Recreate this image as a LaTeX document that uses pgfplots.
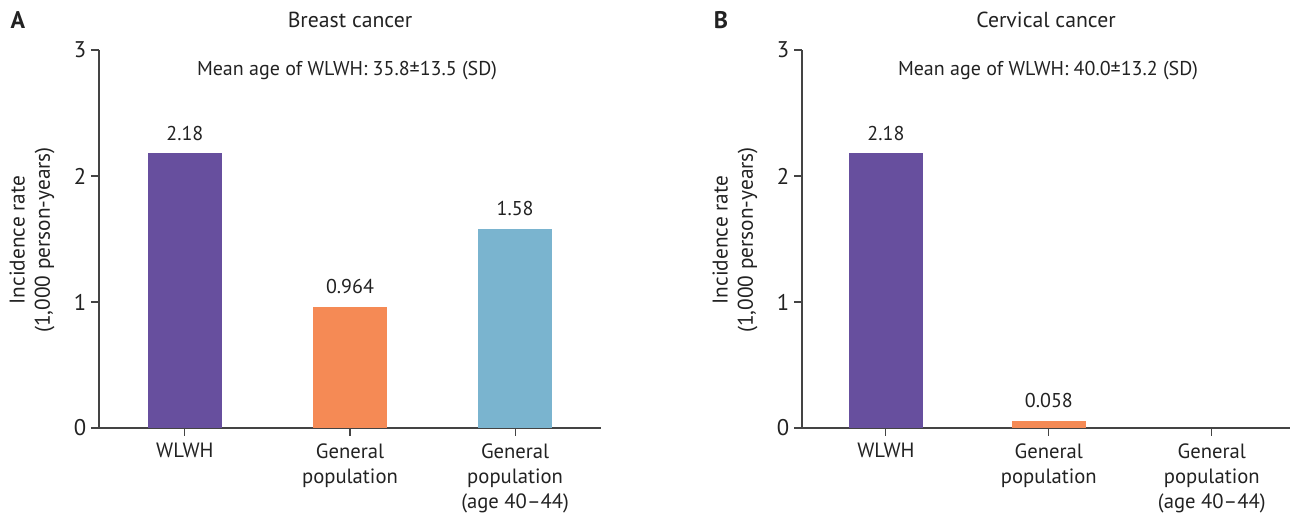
\documentclass[border=0pt]{standalone}
\usepackage{fontspec}
\setmainfont{PT Sans}
\usepackage{pgfplots}
\pgfplotsset{compat=1.18}
\definecolor{cpurple}{HTML}{674F9E}
\definecolor{corange}{HTML}{F58A55}
\definecolor{cblue}{HTML}{7AB4CF}
\definecolor{ctext}{HTML}{222222}
\definecolor{caxis}{HTML}{444444}
\pgfplotsset{
  mybar/.style={
    scale only axis, height=283.5pt,
    axis x line*=bottom, axis y line*=left,
    ymin=0, ymax=3, ytick={0,1,2,3},
    xtick={0,1,2},
    xticklabels={WLWH, General\\population, General\\population\\(age 40–44)},
    tick align=outside, major tick length=6pt,
    axis line style={draw=caxis, line width=0.8pt},
    tick style={draw=caxis, line width=0.8pt},
    /pgf/number format/assume math mode=true,
    yticklabel style={font=\fontsize{17}{20}\selectfont, text=ctext},
    xticklabel style={font=\fontsize{15.5}{19}\selectfont, text=ctext, align=center, yshift=-2pt},
    ybar, bar width=56pt, bar shift=0pt,
    point meta=explicit symbolic,
    nodes near coords,
    every node near coord/.append style={font=\fontsize{15}{18}\selectfont, text=ctext, yshift=6pt},
    clip=false,
  }
}
\begin{document}
\begin{tikzpicture}
\path[use as bounding box] (0,0) rectangle (969.75pt,390.75pt);
% Panel A
\begin{axis}[mybar, at={(74.25pt,69.75pt)}, anchor=south west, width=376.5pt, xmin=-0.52, xmax=2.52]
\addplot[draw=none, fill=cpurple] coordinates {(0,2.18) [2.18]};
\addplot[draw=none, fill=corange] coordinates {(1,0.964) [0.964]};
\addplot[draw=none, fill=cblue] coordinates {(2,1.58) [1.58]};
\end{axis}
% Panel B
\begin{axis}[mybar, at={(601.5pt,69.75pt)}, anchor=south west, width=366pt, xmin=-0.515, xmax=2.48]
\addplot[draw=none, fill=cpurple] coordinates {(0,2.18) [2.18]};
\addplot[draw=none, fill=corange] coordinates {(1,0.058) [0.058]};
\end{axis}
\begin{scope}[every node/.style={text=ctext, font=\fontsize{16.3}{19}\selectfont}]
\node[font=\fontsize{18}{19}\selectfont\bfseries] at (13.5pt,375.75pt) {A};
\node[font=\fontsize{18}{19}\selectfont\bfseries] at (540.75pt,375.75pt) {B};
\node at (262.5pt,375.75pt) {Breast cancer};
\node at (784.5pt,375.75pt) {Cervical cancer};
\node[font=\fontsize{15}{19}\selectfont] at (260.25pt,337.5pt) {Mean age of WLWH: 35.8±13.5 (SD)};
\node[font=\fontsize{15}{19}\selectfont] at (786pt,337.5pt) {Mean age of WLWH: 40.0±13.2 (SD)};
\node[rotate=90, align=center, font=\fontsize{16}{19}\selectfont] at (24pt,210.75pt) {Incidence rate\\(1,000 person-years)};
\node[rotate=90, align=center, font=\fontsize{16}{19}\selectfont] at (551.25pt,210.75pt) {Incidence rate\\(1,000 person-years)};
\end{scope}
\end{tikzpicture}
\end{document}
